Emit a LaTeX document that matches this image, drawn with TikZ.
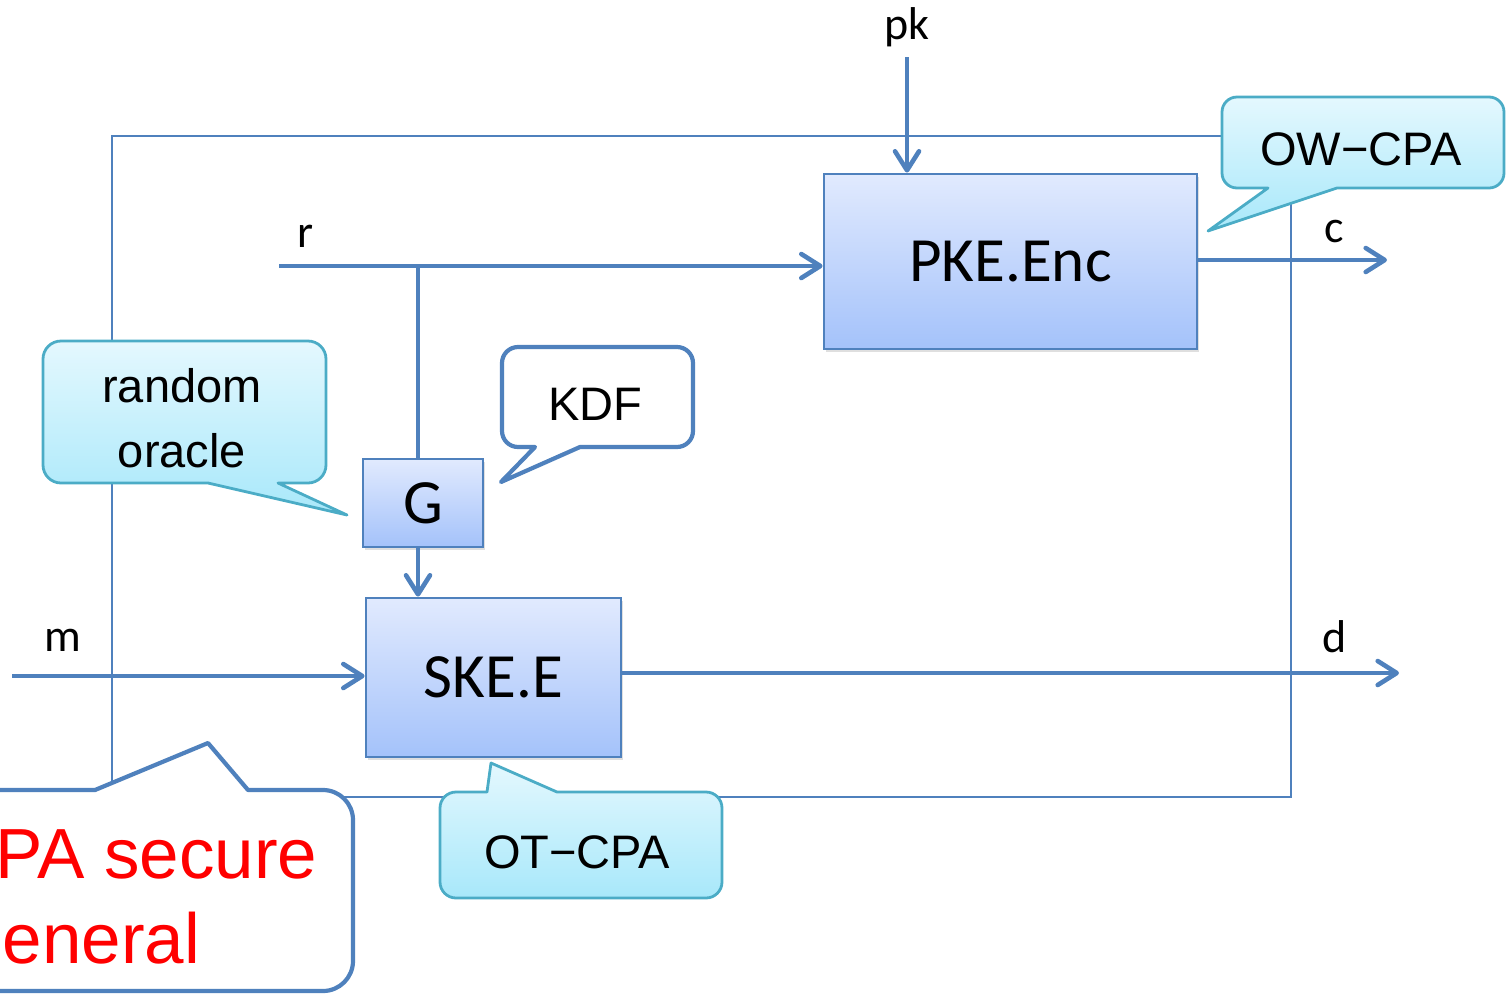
\documentclass[tikz,border=0pt]{standalone}
\usepackage{fontspec}
\setmainfont{Liberation Sans}
\newfontfamily\calfont{Carlito}
\usetikzlibrary{arrows.meta,shadows}
\definecolor{lineblue}{RGB}{79,129,189}
\definecolor{boxtop}{RGB}{225,234,254}
\definecolor{boxbot}{RGB}{164,194,250}
\definecolor{calltop}{RGB}{228,248,254}
\definecolor{callbot}{RGB}{168,232,250}
\definecolor{callborder}{RGB}{75,172,198}
\definecolor{alertred}{RGB}{255,0,0}
\begin{document}
\begin{tikzpicture}[x=1pt,y=-1pt,
  frameline/.style={draw=lineblue, line width=2.8pt},
  flow/.style={draw=lineblue, line width=4.6pt,
    -{Straight Barb[length=19pt,width=24pt,round]}},
  plainflow/.style={draw=lineblue, line width=4.6pt},
  blockbox/.style={draw=lineblue, line width=2.8pt, top color=boxtop,
    bottom color=boxbot, inner sep=0pt,
    drop shadow={shadow xshift=2pt, shadow yshift=-3pt, opacity=0.25},
    font=\calfont\fontsize{63pt}{63pt}\selectfont},
  lbl/.style={font=\calfont\fontsize{46pt}{46pt}\selectfont, anchor=base,
    inner sep=0pt},
  tealcallout/.style={draw=callborder, line width=2.8pt, top color=calltop,
    bottom color=callbot, line join=round},
  bluecallout/.style={draw=lineblue, line width=4.2pt, fill=white,
    line join=round},
  calltext/.style={font=\fontsize{47pt}{47pt}\selectfont, anchor=base,
    inner sep=0pt},
  redtext/.style={font=\fontsize{71pt}{71pt}\selectfont, text=alertred,
    anchor=base west, inner sep=0pt}
]
\useasboundingbox (0,0) rectangle (1510,994);

% enclosing frame
\draw[frameline] (112,136) rectangle (1291,797);

% blocks
\node[blockbox, minimum width=373pt, minimum height=175pt] (pke) at (1010.5,261.5) {PKE.Enc};
\node[blockbox, minimum width=120pt, minimum height=88pt] (g) at (423,503) {G};
\node[blockbox, minimum width=255pt, minimum height=159pt] (ske) at (493.5,677.5) {SKE.E};

% free ends of the connectors
\coordinate (pkstart) at (907,57);
\coordinate (rstart) at (279,266);
\coordinate (branch) at (418,266);
\coordinate (cend) at (1387,260);
\coordinate (mstart) at (12,676);
\coordinate (dend) at (1399,673);

% connectors
\draw[flow] (pkstart) -- (pkstart |- pke.north);
\draw[flow] (rstart) -- (rstart -| pke.west);
\draw[plainflow] (branch) -- (branch |- g.north);
\draw[flow] (g.south -| branch) -- (ske.north -| branch);
\draw[flow] (pke.east |- cend) -- (cend);
\draw[flow] (mstart) -- (mstart -| ske.west);
\draw[flow] (ske.east |- dend) -- (dend);

% connector labels
\node[lbl] (pklbl) at (907,39) {pk};
\node[lbl] (rlbl) at (306,247) {r};
\node[lbl] (clbl) at (1334,242) {c};
\node[lbl] (mlbl) at (63,651) {m};
\node[lbl] (dlbl) at (1335,652) {d};

% callout: OW-CPA
\path[tealcallout] (1237,97) -- (1489,97) arc[start angle=270, end angle=360, radius=15]
  -- (1504,173) arc[start angle=0, end angle=90, radius=15]
  -- (1337,188) -- (1208,231) -- (1268,188)
  -- (1237,188) arc[start angle=90, end angle=180, radius=15]
  -- (1222,112) arc[start angle=180, end angle=270, radius=15] -- cycle;
\node[calltext] (owcpa) at (1361,165) {OW−CPA};

% callout: random oracle
\path[tealcallout] (61,341) -- (308,341) arc[start angle=270, end angle=360, radius=18]
  -- (326,465) arc[start angle=0, end angle=90, radius=18]
  -- (278,483) -- (347,515) -- (208,483)
  -- (61,483) arc[start angle=90, end angle=180, radius=18]
  -- (43,359) arc[start angle=180, end angle=270, radius=18] -- cycle;
\node[calltext] (rotext1) at (182,402) {random};
\node[calltext] (rotext2) at (182,467) {oracle};

% callout: KDF
\path[bluecallout] (518,347) -- (677,347) arc[start angle=270, end angle=360, radius=16]
  -- (693,431) arc[start angle=0, end angle=90, radius=16]
  -- (580,447) -- (501,482) -- (535,447)
  -- (518,447) arc[start angle=90, end angle=180, radius=16]
  -- (502,363) arc[start angle=180, end angle=270, radius=16] -- cycle;
\node[calltext] (kdf) at (595,420) {KDF};

% callout: OT-CPA
\path[tealcallout] (456,792) -- (487,792) -- (491,763) -- (557,792)
  -- (706,792) arc[start angle=270, end angle=360, radius=16]
  -- (722,882) arc[start angle=0, end angle=90, radius=16]
  -- (456,898) arc[start angle=90, end angle=180, radius=16]
  -- (440,808) arc[start angle=180, end angle=270, radius=16] -- cycle;
\node[calltext] (otcpa) at (577,868) {OT−CPA};

% callout: security note
\path[bluecallout] (-30,790) -- (95,790) -- (208,743) -- (248,790)
  -- (323,790) arc[start angle=270, end angle=360, radius=30]
  -- (353,961) arc[start angle=0, end angle=90, radius=30]
  -- (-30,991) arc[start angle=90, end angle=180, radius=30]
  -- (-60,820) arc[start angle=180, end angle=270, radius=30] -- cycle;
\node[redtext] (note1) at (-5,878) {PA secure};
\node[redtext] (note2) at (-37,963) {general};
\end{tikzpicture}
\end{document}
